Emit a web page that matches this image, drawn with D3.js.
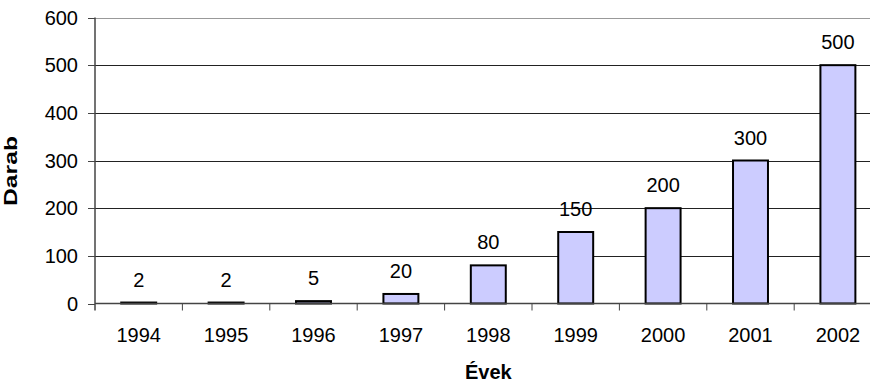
<!DOCTYPE html>
<html>
<head>
<meta charset="utf-8">
<script src="https://cdn.jsdelivr.net/npm/d3@7/dist/d3.min.js"></script>
<style>
  html, body { margin: 0; padding: 0; background: #fff; }
  svg { display: block; font-family: Arial, "Liberation Sans", sans-serif; }
</style>
</head>
<body>
<svg id="chart" width="870" height="383"></svg>
<script>
const categories = ["1994", "1995", "1996", "1997", "1998", "1999", "2000", "2001", "2002"];
const values = [2, 2, 5, 20, 80, 150, 200, 300, 500];
const yTicks = [0, 100, 200, 300, 400, 500, 600];
const xTitle = "Évek";
const yTitle = "Darab";

(function () {
const svg = d3.select("#chart");
const pLeft = 95, pRight = 881.6, pTop = 17.5, pBottom = 303.5;

const x = d3.scaleBand().domain(categories).range([pLeft, pRight]).paddingInner(0.6).paddingOuter(0.3);
const xb = d3.scaleBand().domain(categories).range([pLeft, pRight]).padding(0);
const y = d3.scaleLinear().domain([0, 600]).range([pBottom, pTop]);

// gridlines
svg.append("g").selectAll("line").data(yTicks.filter(t => t > 0)).join("line")
  .attr("x1", pLeft).attr("x2", pRight)
  .attr("y1", d => Math.round(y(d)) + 0.5).attr("y2", d => Math.round(y(d)) + 0.5)
  .attr("stroke", d => d === 600 ? "#999" : "#222").attr("stroke-width", 1);

// bars
svg.append("g").selectAll("rect").data(values).join("rect")
  .attr("x", (d, i) => x(categories[i]))
  .attr("width", x.bandwidth())
  .attr("y", d => y(d))
  .attr("height", d => pBottom - y(d))
  .attr("fill", "#CCCCFF")
  .attr("stroke", "#000").attr("stroke-width", 2);

// data labels
svg.append("g").selectAll("text").data(values).join("text")
  .attr("x", (d, i) => x(categories[i]) + x.bandwidth() / 2)
  .attr("y", d => y(d) - 16)
  .attr("text-anchor", "middle")
  .attr("font-size", 20).attr("fill", "#000")
  .text(d => d);

// y axis
const yAxis = svg.append("g");
yAxis.append("line").attr("x1", pLeft).attr("x2", pLeft).attr("y1", pTop).attr("y2", pBottom + 7)
  .attr("stroke", "#444").attr("stroke-width", 1.5);
yAxis.selectAll("line.tick").data(yTicks).join("line").attr("class", "tick")
  .attr("x1", pLeft - 7).attr("x2", pLeft)
  .attr("y1", d => Math.round(y(d)) + 0.5).attr("y2", d => Math.round(y(d)) + 0.5)
  .attr("stroke", "#444").attr("stroke-width", 1);
yAxis.selectAll("text").data(yTicks).join("text")
  .attr("x", 78).attr("y", d => y(d))
  .attr("dy", "0.35em").attr("text-anchor", "end")
  .attr("font-size", 20).attr("fill", "#000")
  .text(d => d);

// x axis
const xAxis = svg.append("g");
xAxis.append("line").attr("x1", pLeft).attr("x2", pRight).attr("y1", pBottom).attr("y2", pBottom)
  .attr("stroke", "#444").attr("stroke-width", 1.5);
xAxis.selectAll("line.tick").data(categories).join("line").attr("class", "tick")
  .attr("x1", d => xb(d) + xb.bandwidth()).attr("x2", d => xb(d) + xb.bandwidth())
  .attr("y1", pBottom).attr("y2", pBottom + 7)
  .attr("stroke", "#444").attr("stroke-width", 1);
xAxis.selectAll("text").data(categories).join("text")
  .attr("x", d => x(d) + x.bandwidth() / 2).attr("y", 341.5)
  .attr("text-anchor", "middle")
  .attr("font-size", 20).attr("fill", "#000")
  .text(d => d);

// titles
svg.append("text").attr("x", (pLeft + pRight) / 2).attr("y", 379)
  .attr("text-anchor", "middle").attr("font-size", 20).attr("font-weight", "bold")
  .text(xTitle);
svg.append("text").attr("transform", `translate(17,171) rotate(-90) scale(1.3,1)`)
  .attr("text-anchor", "middle").attr("font-size", 19).attr("font-weight", "bold")
  .text(yTitle);
})();
</script>
</body>
</html>
